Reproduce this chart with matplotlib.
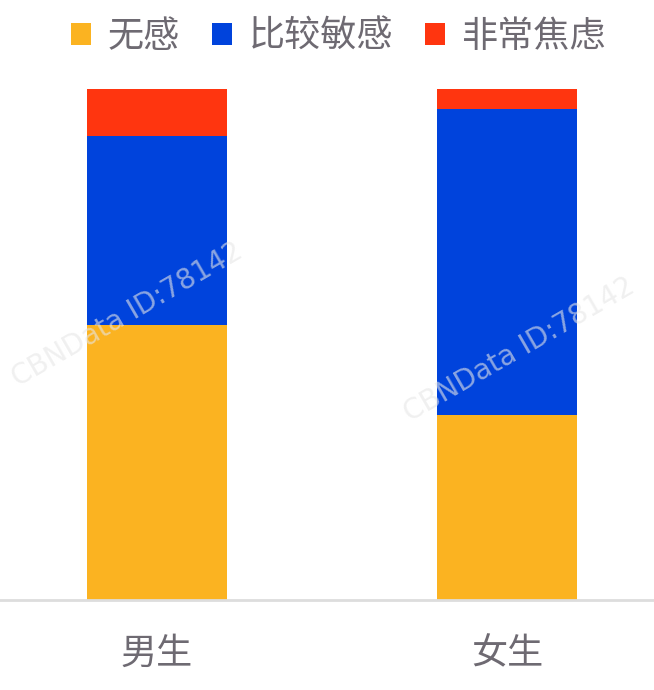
import matplotlib
matplotlib.use('Agg')
from matplotlib import pyplot as plt
from matplotlib.patches import Patch
import numpy as np

plt.rcParams['font.family'] = ['Noto Sans CJK SC', 'DejaVu Sans']

categories = ['男生', '女生']
series_names = ['无感', '比较敏感', '非常焦虑']
no_feeling = [53.8, 36.3]
sensitive = [37.1, 59.7]
anxious = [9.1, 4.0]
colors = ['#fbb321', '#0043dc', '#ff350f']
text_color = '#6e6a72'

fig = plt.figure(figsize=(6.54, 6.9), dpi=100)
ax = fig.add_axes([0, 90 / 690, 1, 511 / 690])

x = np.arange(len(categories))
bottom = np.zeros(len(categories))
for vals, c in zip([no_feeling, sensitive, anxious], colors):
    ax.bar(x, vals, width=0.4, bottom=bottom, color=c, edgecolor='none')
    bottom += np.array(vals)

ax.set_xlim(-157 / 350, 1 + 147 / 350)
ax.set_ylim(0, 100)
ax.set_yticks([])
ax.set_xticks(x)
ax.set_xticklabels(categories, fontsize=26, color=text_color)
ax.tick_params(axis='x', length=0, pad=26)
for s in ['top', 'right', 'left']:
    ax.spines[s].set_visible(False)
ax.spines['bottom'].set_color('#dddddd')
ax.spines['bottom'].set_linewidth(2)

# watermark
for (wx, wy) in [(0.01, 0.44), (0.61, 0.39)]:
    fig.text(wx, wy, 'CBNData ID:78142', rotation=30, fontsize=20,
             color='#e6e6e6', alpha=0.6, family='DejaVu Sans', zorder=0)

handles = [Patch(facecolor=c, edgecolor='none') for c in colors]
fig.legend(handles, series_names, loc='center', bbox_to_anchor=(0.518, 0.947),
           ncol=3, frameon=False, fontsize=26, labelcolor=text_color,
           handlelength=0.55, handleheight=0.55, handletextpad=0.45,
           columnspacing=0.9)

fig.savefig('out.png', dpi=100)
